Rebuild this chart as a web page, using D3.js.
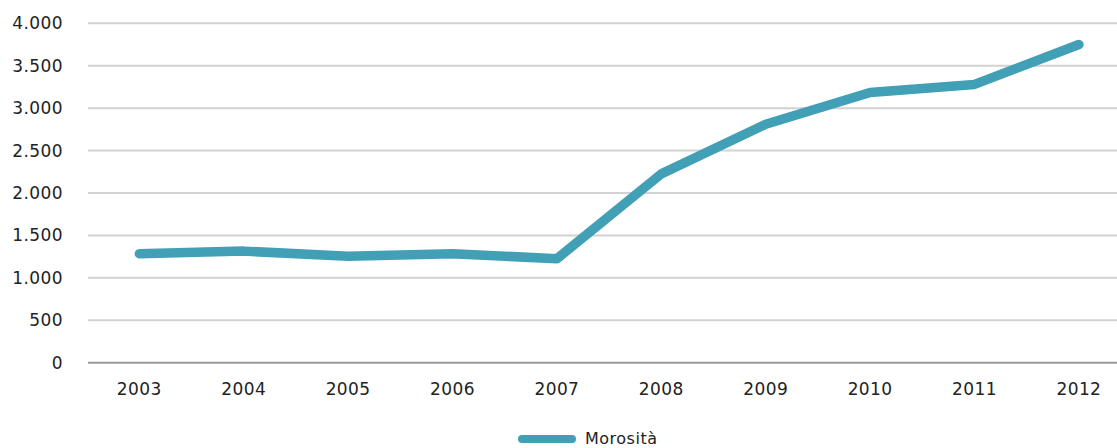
<!DOCTYPE html>
<html>
<head>
<meta charset="utf-8">
<script src="https://cdn.jsdelivr.net/npm/d3@7"></script>
<style>
  html, body { margin: 0; padding: 0; background: #fff; }
  svg { display: block; }
  text { font-family: "DejaVu Sans", sans-serif; fill: #222; }
</style>
</head>
<body>
<svg id="chart" width="1117" height="448"></svg>
<script>
// Morosità per anno
const years = ["2003","2004","2005","2006","2007","2008","2009","2010","2011","2012"];
const morosita = [1285, 1315, 1255, 1285, 1225, 2225, 2810, 3185, 3280, 3750];
const yTicks = [0, 500, 1000, 1500, 2000, 2500, 3000, 3500, 4000];
const seriesName = "Morosità";

const svg = d3.select("#chart");
const W = 1117;
const plotLeft = 88, plotRight = W;
const y0 = 362.7, yTop = 23.3;

const x = d3.scaleBand().domain(years).range([87.1, 1131.1]);
const y = d3.scaleLinear().domain([0, 4000]).range([y0, yTop]);

const fmt = v => d3.format(",")(v).replace(/,/g, ".");

// horizontal gridlines
svg.append("g").selectAll("line")
  .data(yTicks.filter(t => t > 0))
  .join("line")
  .attr("x1", plotLeft).attr("x2", plotRight)
  .attr("y1", d => y(d)).attr("y2", d => y(d))
  .attr("stroke", "#d2d2d2").attr("stroke-width", 2);

// baseline
svg.append("line")
  .attr("x1", plotLeft).attr("x2", plotRight)
  .attr("y1", y(0)).attr("y2", y(0))
  .attr("stroke", "#9a9a9a").attr("stroke-width", 2);

// y labels
svg.append("g").selectAll("text")
  .data(yTicks)
  .join("text")
  .attr("x", 63).attr("y", d => y(d) + 6)
  .attr("text-anchor", "end")
  .attr("font-size", 17).attr("letter-spacing", 0.4)
  .text(fmt);

// x labels
svg.append("g").selectAll("text")
  .data(years)
  .join("text")
  .attr("x", d => x(d) + x.bandwidth() / 2).attr("y", 395)
  .attr("text-anchor", "middle")
  .attr("font-size", 17).attr("letter-spacing", 0.4)
  .text(d => d);

// series line
const line = d3.line()
  .x((d, i) => x(years[i]) + x.bandwidth() / 2)
  .y(d => y(d));

svg.append("path")
  .datum(morosita)
  .attr("d", line)
  .attr("fill", "none")
  .attr("stroke", "#41a0b6")
  .attr("stroke-width", 9.5)
  .attr("stroke-linecap", "round")
  .attr("stroke-linejoin", "round");

// legend
const lg = svg.append("g");
lg.append("line")
  .attr("x1", 522).attr("x2", 572).attr("y1", 439).attr("y2", 439)
  .attr("stroke", "#41a0b6").attr("stroke-width", 8).attr("stroke-linecap", "round");
lg.append("text")
  .attr("x", 585).attr("y", 444)
  .attr("font-size", 16).attr("letter-spacing", 0.5)
  .text(seriesName);
</script>
</body>
</html>
